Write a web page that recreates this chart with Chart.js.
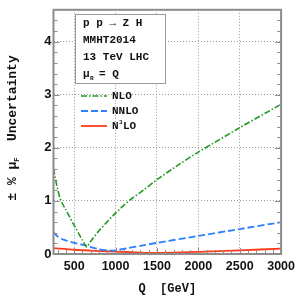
<!DOCTYPE html>
<html>
<head>
<meta charset="utf-8">
<script src="https://cdn.jsdelivr.net/npm/chart.js@4"></script>
<style>
    body { margin: 0; background: #fff; }
    canvas { display: block; }
</style>
</head>
<body>
    <canvas id="chartCanvas" width="300" height="300"></canvas>
    <script>
        // Valori
        const qNLO   = [250, 275, 300, 325, 350, 400, 500, 600, 650, 700, 800, 900, 1000, 1100, 1200, 1300, 1500, 1750, 2000, 2500, 3000];
        const valNLO = [1.61, 1.40, 1.22, 1.07, 0.97, 0.83, 0.54, 0.26, 0.13, 0.24, 0.44, 0.61, 0.77, 0.92, 1.05, 1.16, 1.40, 1.67, 1.92, 2.38, 2.82];

        const qNNLO   = [250, 300, 370, 500, 650, 800, 950, 1000, 1150, 1300, 1500, 2000, 2500, 3000];
        const valNNLO = [0.41, 0.33, 0.27, 0.21, 0.155, 0.09, 0.065, 0.07, 0.11, 0.155, 0.21, 0.34, 0.47, 0.60];

        const qN3LO   = [250, 500, 750, 1000, 1250, 1500, 2000, 2500, 3000];
        const valN3LO = [0.11, 0.08, 0.06, 0.045, 0.03, 0.02, 0.04, 0.07, 0.10];

        const xTicks = [500, 1000, 1500, 2000, 2500, 3000];
        const yTicks = [0, 1, 2, 3, 4];
        const infoLines = ['p p \u2192 Z H', 'MMHT2014', '13 TeV LHC'];

        const mono = '"Liberation Mono", "DejaVu Sans Mono", monospace';
        const sans = '"Liberation Sans", Arial, sans-serif';
        const frameColor = '#8c8c8c';

        const toPoints = (xs, ys) => xs.map((x, i) => ({ x: x, y: ys[i] }));

        const datasets = [
            {
                label: 'NLO',
                data: toPoints(qNLO, valNLO),
                borderColor: '#1f9a1f',
                borderWidth: 1.6,
                borderDash: [6, 2, 1.5, 2],
                pointRadius: 0,
                tension: 0.1
            },
            {
                label: 'NNLO',
                data: toPoints(qNNLO, valNNLO),
                borderColor: '#2f7fff',
                borderWidth: 1.8,
                borderDash: [7, 3],
                pointRadius: 0,
                tension: 0.2
            },
            {
                label: 'N\u00b3LO',
                data: toPoints(qN3LO, valN3LO),
                borderColor: '#ff3a1a',
                borderWidth: 1.8,
                pointRadius: 0,
                tension: 0.3
            }
        ];

        // Cornice, tacche minori, riquadro info, legenda, titolo asse y
        const decorations = {
            id: 'decorations',
            afterDatasetsDraw(chart) {
                const ctx = chart.ctx;
                const a = chart.chartArea;
                const xs = chart.scales.x, ys = chart.scales.y;
                ctx.save();

                // tacche
                ctx.strokeStyle = frameColor;
                ctx.lineWidth = 1;
                ctx.beginPath();
                for (let v = 0.2; v < 4.6; v += 0.2) {
                    const y = Math.round(ys.getPixelForValue(v)) + 0.5;
                    const major = Math.abs(v - Math.round(v)) < 1e-6;
                    const len = major ? 6 : 4;
                    ctx.moveTo(a.left, y); ctx.lineTo(a.left + len, y);
                    ctx.moveTo(a.right, y); ctx.lineTo(a.right - len, y);
                }
                for (let v = 300; v < 3000; v += 100) {
                    const x = Math.round(xs.getPixelForValue(v)) + 0.5;
                    const len = v % 500 === 0 ? 6 : 4;
                    ctx.moveTo(x, a.bottom); ctx.lineTo(x, a.bottom - len);
                }
                ctx.stroke();

                // cornice
                ctx.lineWidth = 2;
                ctx.strokeRect(a.left, a.top, a.right - a.left, a.bottom - a.top);

                // riquadro info
                ctx.fillStyle = '#fff';
                ctx.fillRect(75, 14, 90, 69);
                ctx.lineWidth = 1;
                ctx.strokeStyle = '#999';
                ctx.strokeRect(75.5, 14.5, 90, 69);

                ctx.fillStyle = '#111';
                ctx.font = 'bold 11px ' + mono;
                ctx.textBaseline = 'middle';
                ctx.textAlign = 'left';
                infoLines.forEach((t, i) => ctx.fillText(t, 83, 23 + i * 17));
                ctx.fillText('\u03bc', 83, 74);
                ctx.font = 'bold 6px ' + mono;
                ctx.fillText('R', 90, 78);
                ctx.font = 'bold 11px ' + mono;
                ctx.fillText('= Q', 99, 74);

                // legenda
                chart.data.datasets.forEach((ds, i) => {
                    const y = 96 + i * 15;
                    ctx.strokeStyle = ds.borderColor;
                    ctx.lineWidth = ds.borderWidth;
                    ctx.setLineDash(ds.borderDash || []);
                    ctx.beginPath();
                    ctx.moveTo(81, y); ctx.lineTo(107, y);
                    ctx.stroke();
                    ctx.setLineDash([]);
                });
                ctx.fillStyle = '#111';
                ctx.font = 'bold 11px ' + mono;
                ctx.fillText('NLO', 112, 96);
                ctx.fillText('NNLO', 112, 111);
                ctx.fillText('N', 112, 126);
                ctx.font = 'bold 6px ' + mono;
                ctx.fillText('3', 119, 122);
                ctx.font = 'bold 11px ' + mono;
                ctx.fillText('LO', 123, 126);

                // titolo asse y
                ctx.translate(13, 128);
                ctx.rotate(-Math.PI / 2);
                ctx.textAlign = 'left';
                ctx.font = 'bold 13px ' + mono;
                const p1 = '\u00b1 % \u03bc';
                const w1 = ctx.measureText(p1).width;
                const p2 = '  Uncertainty';
                const w2 = ctx.measureText(p2).width;
                const total = w1 + 5 + w2;
                let x0 = -total / 2;
                ctx.fillText(p1, x0, 0);
                ctx.font = 'bold 7px ' + mono;
                ctx.fillText('F', x0 + w1, 4);
                ctx.font = 'bold 13px ' + mono;
                ctx.fillText(p2, x0 + w1 + 5, 0);

                ctx.restore();
            }
        };

        const ctx = document.getElementById('chartCanvas').getContext('2d');
        const chart = new Chart(ctx, {
            type: 'line',
            data: { datasets: datasets },
            options: {
                responsive: false,
                animation: false,
                layout: { padding: { top: 8, right: 17, left: 0, bottom: 0 } },
                plugins: {
                    legend: { display: false },
                    tooltip: { enabled: false }
                },
                scales: {
                    x: {
                        type: 'linear',
                        min: 250,
                        max: 3000,
                        afterBuildTicks: function(axis) {
                            axis.ticks = xTicks.map(v => ({ value: v }));
                        },
                        afterFit: function(scale) {
                            scale.height = 46;
                        },
                        grid: { color: '#9a9a9a', lineWidth: 1, drawTicks: false },
                        border: { display: false, dash: [1, 2] },
                        ticks: {
                            padding: 5,
                            color: '#111',
                            maxRotation: 0,
                            font: { family: sans, size: 12.5, weight: 'bold' },
                            callback: function(value) {
                                return String(value);
                            }
                        },
                        title: {
                            display: true,
                            text: 'Q  [GeV]',
                            color: '#111',
                            padding: { top: 13 },
                            font: { family: mono, size: 12, weight: 'bold' }
                        }
                    },
                    y: {
                        min: 0,
                        max: 4.6,
                        afterBuildTicks: function(axis) {
                            axis.ticks = yTicks.map(v => ({ value: v }));
                        },
                        afterFit: function(scale) {
                            scale.width = 53.5;
                        },
                        grid: { color: '#9a9a9a', lineWidth: 1, drawTicks: false },
                        border: { display: false, dash: [1, 2] },
                        ticks: {
                            padding: 2,
                            color: '#111',
                            font: { family: sans, size: 13, weight: 'bold' }
                        }
                    }
                }
            },
            plugins: [decorations]
        });
    </script>
</body>
</html>
